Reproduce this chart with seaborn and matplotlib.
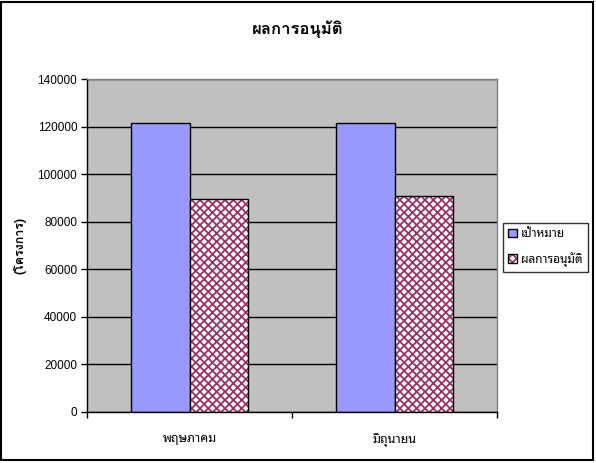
import matplotlib
matplotlib.use("Agg")
import matplotlib.pyplot as plt
import matplotlib.patches as mpatches
from matplotlib.colors import to_rgba
import seaborn as sns
import pandas as pd

months = ["พฤษภาคม", "มิถุนายน"]
series = ["เป้าหมาย", "ผลการอนุมัติ"]
target = [121500, 121500]
approved = [89500, 90700]
colors = ["#9999FF", "#FFFFFF"]

df = pd.DataFrame({
    "month": months * 2,
    "series": [series[0]] * 2 + [series[1]] * 2,
    "value": target + approved,
})

sns.set_theme(style="white")
plt.rcParams["font.family"] = ["Liberation Sans", "Noto Sans Thai Looped", "DejaVu Sans"]
plt.rcParams["hatch.linewidth"] = 1.3
for k in ["text.color", "axes.labelcolor", "xtick.color", "ytick.color"]:
    plt.rcParams[k] = "black"
bold_family = ["Loma", "Noto Sans Thai", "DejaVu Sans"]

fig = plt.figure(figsize=(5.96, 4.63), dpi=100)
ax = fig.add_axes([87 / 596, 51 / 463, 410 / 596, 333 / 463])

sns.barplot(data=df, x="month", y="value", hue="series", palette=colors,
            width=0.566, edgecolor="black", linewidth=1, saturation=1, ax=ax)

for p in ax.containers[1]:
    p.set_hatch("xxxx")
    p._hatch_color = to_rgba("#993366")

ax.set_facecolor("#C0C0C0")
ax.set_ylim(0, 140000)
ax.set_yticks(range(0, 140001, 20000))
ax.set_yticklabels([str(v) for v in range(0, 140001, 20000)], fontsize=8.5)
ax.set_xlim(-0.5, 1.5)
ax.yaxis.grid(True, color="black", linewidth=1)
ax.set_axisbelow(True)
ax.set_xlabel("")
ax.set_ylabel("(โครงการ)", fontsize=9, fontweight="bold", family=bold_family, labelpad=8)
ax.tick_params(axis="y", left=True, length=4, width=1, color="black", pad=3)
ax.set_xticks([-0.5, 0.5, 1.5], minor=True)
ax.tick_params(axis="x", which="major", bottom=False, labelsize=9, pad=9)
ax.tick_params(axis="x", which="minor", bottom=True, length=4, width=1, color="black")
for s in ["left", "bottom"]:
    ax.spines[s].set_color("black")
    ax.spines[s].set_linewidth(1)
for s in ["top", "right"]:
    ax.spines[s].set_color("#808080")
    ax.spines[s].set_linewidth(1)

ax.get_legend().remove()
fig.legend(handles=[ax.containers[0], ax.containers[1]], labels=series,
           loc="center left", bbox_to_anchor=(503 / 596, 1 - 247.5 / 463),
           fontsize=8.5, frameon=True, fancybox=False, edgecolor="black",
           handlelength=0.7, handleheight=0.7, handletextpad=0.35,
           borderpad=0.45, labelspacing=0.95, borderaxespad=0)

fig.text(0.5, 1 - 29 / 463, "ผลการอนุมัติ", ha="center", va="center",
         fontsize=12, fontweight="bold", family=bold_family)

fig.patches.append(mpatches.Rectangle((0.002, 0.006), 0.993, 0.99, transform=fig.transFigure,
                                      fill=False, edgecolor="black", linewidth=1.5))

fig.savefig("out.png", dpi=100)
